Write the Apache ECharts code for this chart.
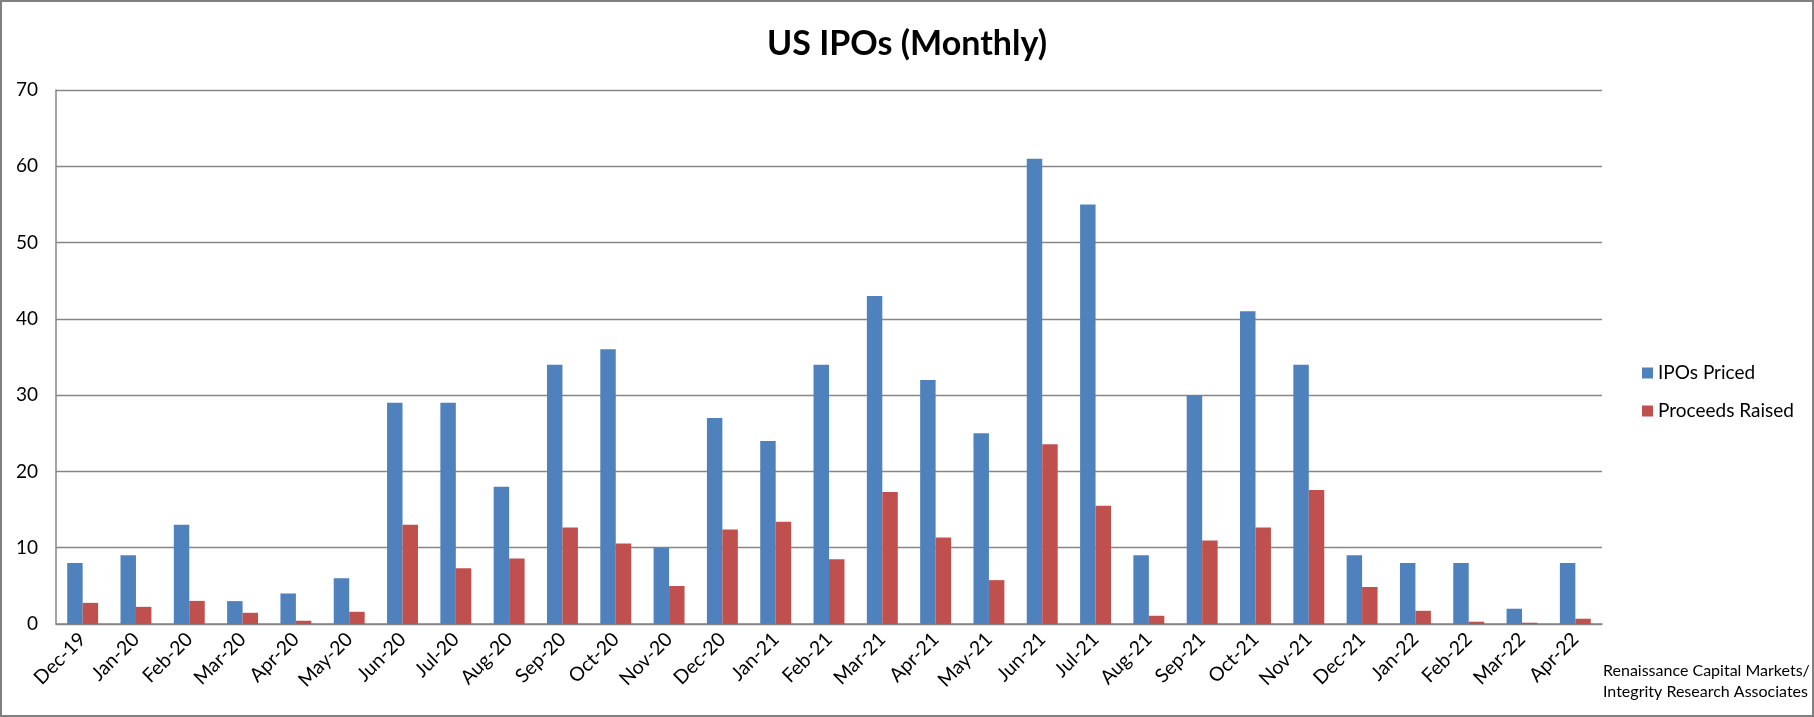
<!DOCTYPE html>
<html>
<head>
<meta charset="utf-8">
<script src="https://cdn.jsdelivr.net/npm/echarts@6/dist/echarts.min.js"></script>
<style>
html,body{margin:0;padding:0;background:#fff;}
#chart{width:1814px;height:717px;box-sizing:border-box;border:2px solid #808080;}
</style>
</head>
<body>
<div id="chart"></div>
<script>
var categories = ['Dec-19','Jan-20','Feb-20','Mar-20','Apr-20','May-20','Jun-20','Jul-20','Aug-20','Sep-20','Oct-20','Nov-20','Dec-20','Jan-21','Feb-21','Mar-21','Apr-21','May-21','Jun-21','Jul-21','Aug-21','Sep-21','Oct-21','Nov-21','Dec-21','Jan-22','Feb-22','Mar-22','Apr-22'];
var iposPriced = [8,9,13,3,4,6,29,29,18,34,36,10,27,24,34,43,32,25,61,55,9,30,41,34,9,8,8,2,8];
var proceedsRaised = [2.77,2.25,3.03,1.47,0.43,1.6,13.0,7.3,8.6,12.64,10.56,4.98,12.38,13.4,8.48,17.3,11.34,5.75,23.55,15.5,1.08,10.95,12.64,17.58,4.85,1.73,0.3,0.17,0.69];
var seriesNames = ['IPOs Priced','Proceeds Raised'];
var titleText = 'US IPOs (Monthly)';
var sourceLines = ['Renaissance Capital Markets/','Integrity Research Associates'];

var chart = echarts.init(document.getElementById('chart'), null, {renderer:'canvas'});
var FONT = 'Lato';
chart.setOption({
  animation:false,
  backgroundColor:'#fff',
  title:{
    text:titleText,
    left:'center',
    top:20,
    textStyle:{fontFamily:FONT,fontSize:34,fontWeight:'bold',color:'#000'}
  },
  legend:{
    orient:'vertical',
    left:1635,
    top:356,
    itemWidth:11,
    itemHeight:11,
    itemGap:18,
    icon:'rect',
    data:seriesNames,
    textStyle:{fontFamily:FONT,fontSize:19,color:'#000',lineHeight:20}
  },
  grid:{left:54,right:210,top:88,bottom:91,containLabel:false},
  xAxis:{
    type:'category',
    data:categories,
    axisLine:{lineStyle:{color:'#868686',width:1.5}},
    axisTick:{show:false},
    axisLabel:{rotate:45,fontFamily:FONT,fontSize:19.5,color:'#000',margin:12,interval:0}
  },
  yAxis:{
    type:'value',
    min:0,max:70,interval:10,
    axisLine:{show:true,lineStyle:{color:'#868686',width:1.5}},
    axisTick:{show:false},
    splitLine:{lineStyle:{color:'#868686',width:1.3}},
    axisLabel:{fontFamily:FONT,fontSize:19,color:'#000',margin:18}
  },
  series:[
    {name:seriesNames[0],type:'bar',data:iposPriced,itemStyle:{color:'#4F81BD'},barGap:'0%',barCategoryGap:'42%'},
    {name:seriesNames[1],type:'bar',data:proceedsRaised,itemStyle:{color:'#C0504D'},barGap:'0%',barCategoryGap:'42%'}
  ],
  graphic:[
    {type:'text',left:1601,top:661,style:{text:sourceLines[0],fontFamily:FONT,fontSize:16,fill:'#000'}},
    {type:'text',left:1601,top:682,style:{text:sourceLines[1],fontFamily:FONT,fontSize:16,fill:'#000'}}
  ]
});
</script>
</body>
</html>
